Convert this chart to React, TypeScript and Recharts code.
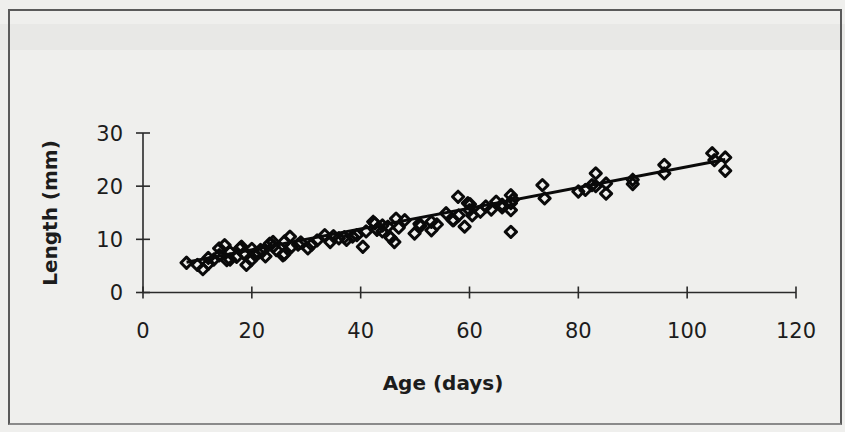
import React from "react";
import { ScatterChart, Scatter, XAxis, YAxis } from "recharts";

// Age (days) and length (mm) of individual fish
const ages = [
  8, 10, 11, 12, 13, 14, 15, 15.4, 16, 17.2, 17.8, 18.1, 19, 19.9, 20.5, 21.2, 21.6, 22.5, 23.3, 23.9,
  24.5, 25.7, 26, 27, 27.3, 28.5, 30.3, 32, 33.4, 34.4, 36, 37.4, 38.5, 39.3, 40.4, 41, 42.3, 42.6, 44, 45,
  46.2, 46.5, 45.5, 48.1, 49.9, 50.8, 53, 53, 55.7, 56.9, 57.1, 57.9, 59.1, 59.7, 60.1, 60.5, 62, 64, 64.9, 66,
  67.6, 67.6, 67.6, 67.6, 73.4, 73.8, 80, 81.3, 82.5, 83.2, 83.2, 85.1, 85.1, 90, 90, 95.8, 95.8, 104.6, 105, 107,
  107, 12, 14, 16, 18.5, 20, 22, 24, 26, 29, 31, 35, 37, 43, 44, 47, 51, 54, 58, 60, 63, 66, 68,
];
const lengths = [
  5.6, 5.2, 4.4, 5.4, 6.2, 7.0, 8.9, 6.1, 7.6, 6.7, 8.3, 8.6, 5.2, 6.1, 7.2, 7.4, 8.0, 6.8, 9.2, 9.5,
  8.0, 7.0, 7.2, 10.5, 8.6, 9.0, 8.3, 9.8, 10.8, 9.5, 10.2, 9.9, 10.5, 10.8, 8.6, 11.5, 13.3, 13.0, 11.5, 12.4,
  9.5, 13.9, 10.3, 13.6, 11.1, 12.9, 13.3, 11.7, 14.9, 13.6, 13.6, 18.0, 12.4, 16.8, 16.6, 14.5, 15.2, 15.6, 17.1, 16.0,
  18.3, 16.8, 11.4, 15.5, 20.2, 17.7, 19.0, 19.3, 20.2, 22.4, 20.0, 20.5, 18.6, 20.4, 21.2, 24.0, 22.4, 26.2, 24.9, 25.4,
  22.9, 6.5, 8.3, 6.2, 7.3, 8.2, 7.8, 8.7, 9.6, 9.4, 9.0, 10.6, 10.4, 11.8, 12.6, 12.2, 12.5, 12.8, 14.5, 15.5, 16.2, 16.5, 17.5,
];

// Fitted regression line end points
const fitAges = [8, 107];
const fitLengths = [5.7, 25.0];

const xTicks = [0, 20, 40, 60, 80, 100, 120];
const yTicks = [0, 10, 20, 30];

const points = ages.map((a, i) => ({ x: a, y: lengths[i] }));
const fit = fitAges.map((a, i) => ({ x: a, y: fitLengths[i] }));

const FONT = "'DejaVu Sans', 'Liberation Sans', Arial, sans-serif";
const INK = "#1c1c1c";

const Diamond = (props: any) => {
  const { cx, cy } = props;
  if (cx == null || cy == null) return <g />;
  const r = 5.6;
  return (
    <path
      d={`M${cx},${cy - r} L${cx + r},${cy} L${cx},${cy + r} L${cx - r},${cy} Z`}
      fill="none"
      stroke="#0a0a0a"
      strokeWidth={3}
      strokeLinejoin="round"
    />
  );
};

const XTick = (props: any) => {
  const { x, y, payload } = props;
  return (
    <g>
      <line x1={x} x2={x} y1={y - 6} y2={y + 6} stroke="#2a2a2a" strokeWidth={1.6} />
      <text x={x} y={y + 45} textAnchor="middle" fontSize={21} fill={INK} fontFamily={FONT}>
        {payload.value}
      </text>
    </g>
  );
};

const YTick = (props: any) => {
  const { x, y, payload } = props;
  return (
    <g>
      <line x1={x - 7} x2={x + 7} y1={y} y2={y} stroke="#2a2a2a" strokeWidth={1.6} />
      <text x={x - 20} y={y + 7.6} textAnchor="end" fontSize={21} fill={INK} fontFamily={FONT}>
        {payload.value}
      </text>
    </g>
  );
};

export default function App() {
  return (
    <div
      style={{
        position: "absolute",
        left: 0,
        top: 0,
        width: 845,
        height: 432,
        background: "#efefed",
        overflow: "hidden",
      }}
    >
      <div
        style={{
          position: "absolute",
          left: 0,
          top: 24,
          width: 845,
          height: 26,
          background: "#e8e8e6",
        }}
      />
      <div
        style={{
          position: "absolute",
          left: 8,
          top: 9,
          width: 834,
          height: 416,
          border: "2px solid #5a5a5a",
          borderBottomColor: "#8a8a8a",
          boxSizing: "border-box",
        }}
      />
      <div style={{ position: "absolute", left: 0, top: 0 }}>
        <ScatterChart
          width={845}
          height={432}
          margin={{ top: 133, right: 49, bottom: 109.5, left: 103 }}
        >
          <XAxis
            type="number"
            dataKey="x"
            domain={[0, 120]}
            ticks={xTicks}
            interval={0}
            height={30}
            tickSize={0}
            tickMargin={0}
            tick={<XTick />}
            axisLine={{ stroke: "#2a2a2a", strokeWidth: 1.6 }}
            tickLine={false}
            label={{
              content: () => (
                <text
                  x={443}
                  y={390}
                  textAnchor="middle"
                  fontSize={20}
                  fontWeight="bold"
                  fill={INK}
                  fontFamily={FONT}
                >
                  Age (days)
                </text>
              ),
            }}
          />
          <YAxis
            type="number"
            dataKey="y"
            domain={[0, 30]}
            ticks={yTicks}
            interval={0}
            width={40}
            tickSize={0}
            tickMargin={0}
            tick={<YTick />}
            axisLine={{ stroke: "#2a2a2a", strokeWidth: 1.6 }}
            tickLine={false}
            label={{
              content: () => (
                <text
                  x={57}
                  y={213}
                  transform="rotate(-90 57 213)"
                  textAnchor="middle"
                  fontSize={20}
                  fontWeight="bold"
                  fill={INK}
                  fontFamily={FONT}
                >
                  Length (mm)
                </text>
              ),
            }}
          />
          <Scatter
            data={points}
            shape={<Diamond />}
            isAnimationActive={false}
          />
          <Scatter
            data={fit}
            line={{ stroke: "#0a0a0a", strokeWidth: 3 }}
            shape={() => <g />}
            isAnimationActive={false}
          />
        </ScatterChart>
      </div>
    </div>
  );
}
